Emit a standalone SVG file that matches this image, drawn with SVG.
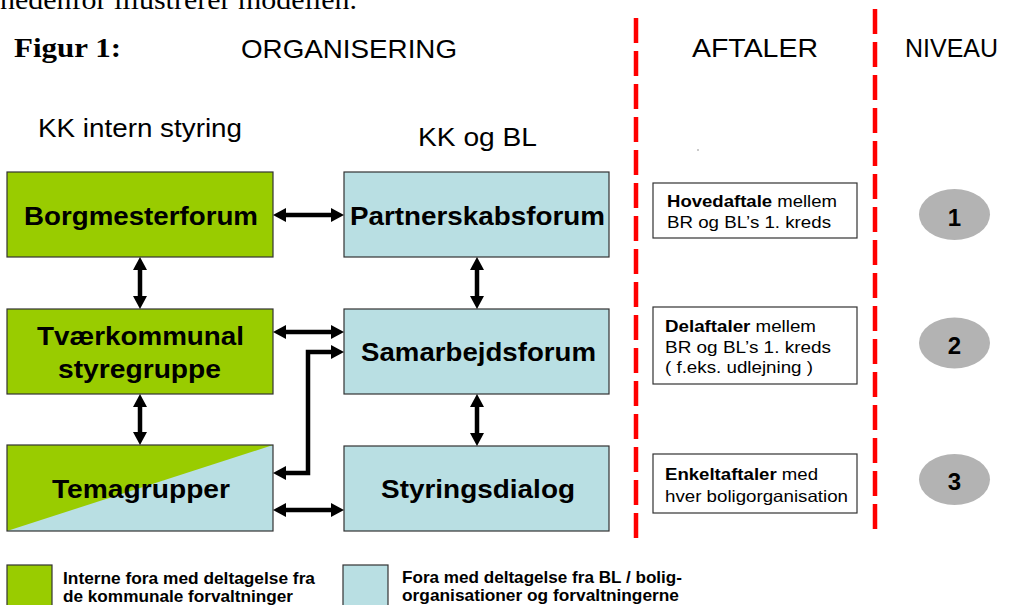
<svg xmlns="http://www.w3.org/2000/svg" width="1009" height="605" viewBox="0 0 1009 605">
<style>
.bg{fill:#ffffff}
.g{fill:#99CC00;stroke:#333333;stroke-width:1.2}
.b{fill:#B9DFE3;stroke:#333333;stroke-width:1.2}
.lbl{font-family:"Liberation Sans",Arial,sans-serif;font-weight:bold;font-size:26px;fill:#000}
.hdr{font-family:"Liberation Sans",Arial,sans-serif;font-size:26px;fill:#000}
.ag{fill:#ffffff;stroke:#333333;stroke-width:1.2}
.agt{font-family:"Liberation Sans",Arial,sans-serif;font-size:16.5px;fill:#000}
.leg{font-family:"Liberation Sans",Arial,sans-serif;font-weight:bold;font-size:16.5px;fill:#000}
.el{fill:#B3B3B3}
.num{font-family:"Liberation Sans",Arial,sans-serif;font-weight:bold;font-size:24px;fill:#000}
.dash{stroke:#FF0000;stroke-width:4.5;stroke-dasharray:25 8;fill:none}
.con{stroke:#000;stroke-width:4.5;fill:none;marker-start:url(#ah);marker-end:url(#ah)}
</style>
<defs>
<marker id="ah" viewBox="0 -7 13 14" refX="7" refY="0" markerWidth="13" markerHeight="14" markerUnits="userSpaceOnUse" orient="auto-start-reverse">
<path d="M0,-7 L13,0 L0,7 z" fill="#000"/>
</marker>
</defs>
<rect class="bg" x="0" y="0" width="1009" height="605"/>

<g id="titles">
<text x="0" y="9" font-family="'Liberation Serif','Times New Roman',serif" font-size="27" textLength="357" lengthAdjust="spacingAndGlyphs">nedenfor illustrerer modellen.</text>
<text x="14" y="57" font-family="'Liberation Serif','Times New Roman',serif" font-weight="bold" font-size="28" textLength="107" lengthAdjust="spacingAndGlyphs">Figur 1:</text>
<text class="hdr" x="241" y="58" textLength="216" lengthAdjust="spacingAndGlyphs">ORGANISERING</text>
<text class="hdr" x="692" y="57" textLength="126" lengthAdjust="spacingAndGlyphs">AFTALER</text>
<text class="hdr" x="905" y="57" textLength="93" lengthAdjust="spacingAndGlyphs">NIVEAU</text>
<text class="hdr" x="38" y="137" textLength="204" lengthAdjust="spacingAndGlyphs">KK intern styring</text>
<text class="hdr" x="418" y="146" textLength="119" lengthAdjust="spacingAndGlyphs">KK og BL</text>
<rect x="697.5" y="149.5" width="1" height="1" fill="#333"/>
</g>

<g id="dividers">
<line class="dash" x1="636" y1="18" x2="636" y2="539"/>
<line class="dash" x1="875" y1="9" x2="875" y2="529"/>
</g>

<g id="borgmesterforum">
<rect class="g" x="7" y="172" width="266" height="85"/>
<text class="lbl" x="24" y="225" textLength="234" lengthAdjust="spacingAndGlyphs">Borgmesterforum</text>
</g>
<g id="partnerskabsforum">
<rect class="b" x="344" y="172" width="265" height="85"/>
<text class="lbl" x="350" y="225" textLength="255" lengthAdjust="spacingAndGlyphs">Partnerskabsforum</text>
</g>
<g id="tvaerkommunal">
<rect class="g" x="7" y="309" width="266" height="85"/>
<text class="lbl" x="37" y="345" textLength="207" lengthAdjust="spacingAndGlyphs">Tværkommunal</text>
<text class="lbl" x="58" y="378" textLength="163" lengthAdjust="spacingAndGlyphs">styregruppe</text>
</g>
<g id="samarbejdsforum">
<rect class="b" x="344" y="309" width="265" height="85"/>
<text class="lbl" x="361" y="361" textLength="235" lengthAdjust="spacingAndGlyphs">Samarbejdsforum</text>
</g>
<g id="temagrupper">
<rect x="7" y="445" width="266" height="86" fill="#B9DFE3"/>
<polygon points="7,445 273,445 7,531" fill="#99CC00"/>
<rect x="7" y="445" width="266" height="86" fill="none" stroke="#333333" stroke-width="1.2"/>
<text class="lbl" x="52" y="498" textLength="178" lengthAdjust="spacingAndGlyphs">Temagrupper</text>
</g>
<g id="styringsdialog">
<rect class="b" x="344" y="446" width="265" height="85"/>
<text class="lbl" x="381" y="498" textLength="194" lengthAdjust="spacingAndGlyphs">Styringsdialog</text>
</g>

<g id="connectors">
<path class="con" d="M279,215 H338"/>
<path class="con" d="M140,263 V303"/>
<path class="con" d="M477,263 V303"/>
<path class="con" d="M279,332 H338"/>
<path class="con" d="M338,352 H308 V473 H279"/>
<path class="con" d="M140,400 V439"/>
<path class="con" d="M477,400 V440"/>
<path class="con" d="M279,510 H338"/>
</g>

<g id="aftale1">
<rect class="ag" x="653" y="183" width="204" height="55"/>
<text class="agt" x="667" y="207" textLength="170" lengthAdjust="spacingAndGlyphs"><tspan font-weight="bold">Hovedaftale</tspan> mellem</text>
<text class="agt" x="667" y="228" textLength="164" lengthAdjust="spacingAndGlyphs">BR og BL’s 1. kreds</text>
</g>
<g id="aftale2">
<rect class="ag" x="653" y="307" width="204" height="77"/>
<text class="agt" x="665" y="332" textLength="151" lengthAdjust="spacingAndGlyphs"><tspan font-weight="bold">Delaftaler</tspan> mellem</text>
<text class="agt" x="665" y="353" textLength="166" lengthAdjust="spacingAndGlyphs">BR og BL’s 1. kreds</text>
<text class="agt" x="665" y="373" textLength="148" lengthAdjust="spacingAndGlyphs">( f.eks. udlejning )</text>
</g>
<g id="aftale3">
<rect class="ag" x="653" y="454" width="204" height="59"/>
<text class="agt" x="665" y="480" textLength="153" lengthAdjust="spacingAndGlyphs"><tspan font-weight="bold">Enkeltaftaler</tspan> med</text>
<text class="agt" x="665" y="502" textLength="183" lengthAdjust="spacingAndGlyphs">hver boligorganisation</text>
</g>

<g id="niveau1">
<ellipse class="el" cx="954.5" cy="214.5" rx="35.5" ry="25.5"/>
<text class="num" x="954.5" y="226" text-anchor="middle">1</text>
</g>
<g id="niveau2">
<ellipse class="el" cx="954.5" cy="343" rx="35.5" ry="25.5"/>
<text class="num" x="954.5" y="354" text-anchor="middle">2</text>
</g>
<g id="niveau3">
<ellipse class="el" cx="954.5" cy="479.5" rx="35.5" ry="25.5"/>
<text class="num" x="954.5" y="490" text-anchor="middle">3</text>
</g>

<g id="legend">
<rect class="g" x="7" y="565" width="45" height="45"/>
<text class="leg" x="63" y="584" textLength="252" lengthAdjust="spacingAndGlyphs">Interne fora med deltagelse fra</text>
<text class="leg" x="63" y="602" textLength="230" lengthAdjust="spacingAndGlyphs">de kommunale forvaltninger</text>
<rect class="b" x="343" y="565" width="45" height="45"/>
<text class="leg" x="402" y="583" textLength="280" lengthAdjust="spacingAndGlyphs">Fora med deltagelse fra BL / bolig-</text>
<text class="leg" x="402" y="601" textLength="277" lengthAdjust="spacingAndGlyphs">organisationer og forvaltningerne</text>
</g>
</svg>
